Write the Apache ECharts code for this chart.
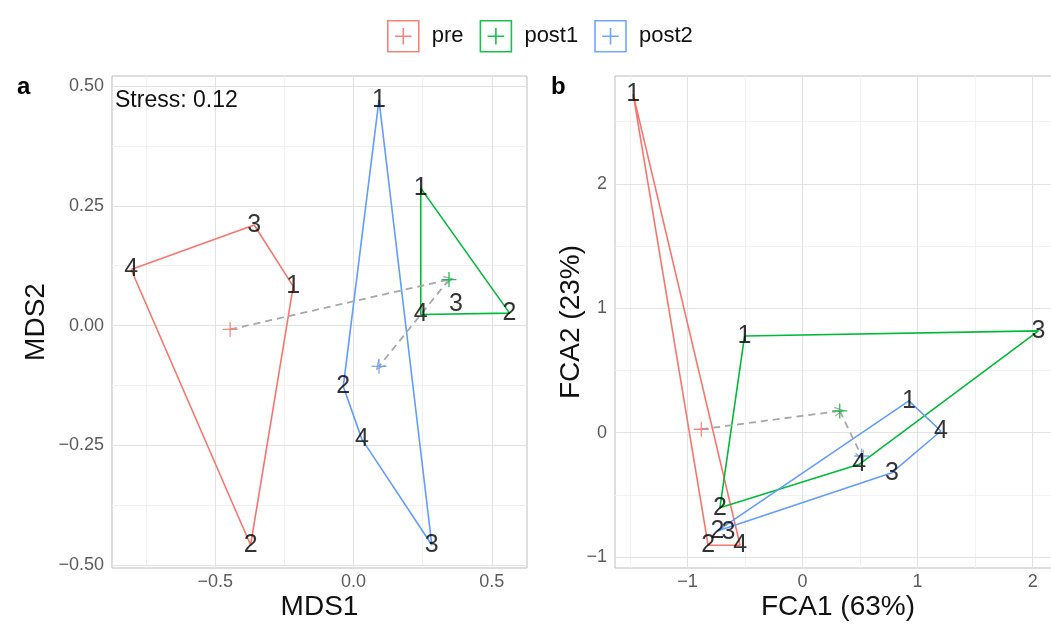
<!DOCTYPE html>
<html><head><meta charset="utf-8">
<script src="https://cdn.jsdelivr.net/npm/echarts@6/dist/echarts.min.js"></script>
<style>html,body{margin:0;padding:0;background:#fff}#c{width:1051px;height:630px}</style>
</head><body><div id="c"></div><script>
// ---------- DATA ----------
const groups = ['pre', 'post1', 'post2'];
const sampleLabels = ['1', '2', '3', '4'];

// Panel a: NMDS (samples 1..4)
const mdsPreX   = [-0.218, -0.372, -0.359, -0.804];
const mdsPreY   = [ 0.082, -0.458,  0.210,  0.117];
const mdsPost1X = [ 0.243,  0.564,  0.370,  0.243];
const mdsPost1Y = [ 0.287,  0.026,  0.044,  0.023];
const mdsPost2X = [ 0.092, -0.037,  0.283,  0.030];
const mdsPost2Y = [ 0.471, -0.127, -0.458, -0.237];
const mdsPreHull   = [4, 3, 1, 2];
const mdsPost1Hull = [1, 2, 4];
const mdsPost2Hull = [1, 3, 4, 2];
const mdsCentX = [-0.446, 0.345, 0.092];
const mdsCentY = [-0.008, 0.096, -0.085];
const mdsStress = 'Stress: 0.12';

// Panel b: FCA (samples 1..4)
const fcaPreX   = [-1.472, -0.821, -0.645, -0.543];
const fcaPreY   = [ 2.720, -0.905, -0.800, -0.905];
const fcaPost1X = [-0.504, -0.718,  2.050,  0.493];
const fcaPost1Y = [ 0.777, -0.603,  0.818, -0.255];
const fcaPost2X = [ 0.924, -0.740,  0.777,  1.202];
const fcaPost2Y = [ 0.255, -0.790, -0.322,  0.013];
const fcaPreHull   = [1, 2, 4];
const fcaPost1Hull = [1, 3, 4, 2];
const fcaPost2Hull = [1, 4, 3, 2];
const fcaCentX = [-0.880, 0.323, 0.513];
const fcaCentY = [ 0.027, 0.174, -0.188];

// Axis ticks
const mdsXTicks = [-0.5, 0, 0.5];
const mdsYTicks = [-0.5, -0.25, 0, 0.25, 0.5];
const mdsXMinor = [-0.75, -0.25, 0.25];
const mdsYMinor = [-0.375, -0.125, 0.125, 0.375];
const fcaXTicks = [-1, 0, 1, 2];
const fcaYTicks = [-1, 0, 1, 2];
const fcaXMinor = [-1.5, -0.5, 0.5, 1.5];
const fcaYMinor = [-0.5, 0.5, 1.5, 2.5];

// ---------- STYLE ----------
const colors = {pre: '#F8766D', post1: '#00BA38', post2: '#619CFF'};
const FONT = '"Liberation Sans", Arial, sans-serif';
const minus = s => s.replace('-', '\u2212');

const panels = [
  {xs: [mdsPreX, mdsPost1X, mdsPost2X], ys: [mdsPreY, mdsPost1Y, mdsPost2Y],
   hulls: [mdsPreHull, mdsPost1Hull, mdsPost2Hull], cx: mdsCentX, cy: mdsCentY,
   xr: [-0.873, 0.627], yr: [-0.506, 0.521],
   xt: mdsXTicks, yt: mdsYTicks, xm: mdsXMinor, ym: mdsYMinor,
   xf: v => minus(v.toFixed(1)), yf: v => minus(v.toFixed(2)),
   xname: 'MDS1', yname: 'MDS2', yGap: 62},
  {xs: [fcaPreX, fcaPost1X, fcaPost2X], ys: [fcaPreY, fcaPost1Y, fcaPost2Y],
   hulls: [fcaPreHull, fcaPost1Hull, fcaPost2Hull], cx: fcaCentX, cy: fcaCentY,
   xr: [-1.63, 2.246], yr: [-1.088, 2.866],
   xt: fcaXTicks, yt: fcaYTicks, xm: fcaXMinor, ym: fcaYMinor,
   xf: v => minus(String(Math.round(v))), yf: v => minus(String(Math.round(v))),
   xname: 'FCA1 (63%)', yname: 'FCA2 (23%)', yGap: 30}
];

const grids = [
  {left: 112, right: 1051 - 527, top: 76, bottom: 630 - 568},
  {left: 615, right: -10, top: 76, bottom: 630 - 568}
].map(g => Object.assign(g, {show: true, borderColor: '#bdbdbd', borderWidth: 1, backgroundColor: '#fff',
  containLabel: false, outerBoundsMode: 'none'}));

const xAxes = [], yAxes = [], series = [];
const plusPath = 'path://M5,0 L5,10 M0,5 L10,5';
const chevron = 'path://M0,10 L5,0 L10,10 L8.6,10 L5,2.8 L1.4,10 Z';

panels.forEach((p, i) => {
  const common = {
    gridIndex: i, type: 'value',
    axisLine: {show: false},
    splitLine: {show: false},
    axisTick: {show: true, length: 4, lineStyle: {color: '#bdbdbd'}},
    nameTextStyle: {fontFamily: FONT, fontSize: 28, color: '#111'},
    nameLocation: 'middle',
    nameMoveOverlap: false
  };
  xAxes.push(Object.assign({}, common, {
    min: p.xr[0], max: p.xr[1], name: p.xname, nameGap: 25,
    axisTick: Object.assign({}, common.axisTick, {customValues: p.xt}),
    axisLabel: {customValues: p.xt, formatter: p.xf, margin: 5, fontFamily: FONT, fontSize: 18, color: '#5c5c5c'}
  }));
  yAxes.push(Object.assign({}, common, {
    min: p.yr[0], max: p.yr[1], name: p.yname, nameGap: p.yGap,
    axisTick: Object.assign({}, common.axisTick, {customValues: p.yt}),
    axisLabel: {customValues: p.yt, formatter: p.yf, margin: 8, fontFamily: FONT, fontSize: 18, color: '#5c5c5c'}
  }));

  // grid lines
  const gl = (vals, isX) => vals.map(v => ({coords: isX ? [[v, p.yr[0]], [v, p.yr[1]]] : [[p.xr[0], v], [p.xr[1], v]]}));
  series.push({type: 'lines', coordinateSystem: 'cartesian2d', xAxisIndex: i, yAxisIndex: i, silent: true, z: 1,
    lineStyle: {color: '#f1f1f1', width: 1, opacity: 1}, data: gl(p.xm, true).concat(gl(p.ym, false))});
  series.push({type: 'lines', coordinateSystem: 'cartesian2d', xAxisIndex: i, yAxisIndex: i, silent: true, z: 1,
    lineStyle: {color: '#e2e2e2', width: 1, opacity: 1}, data: gl(p.xt, true).concat(gl(p.yt, false))});

  groups.forEach((g, k) => {
    const xs = p.xs[k], ys = p.ys[k];
    const ring = p.hulls[k].concat([p.hulls[k][0]]).map(n => [xs[n - 1], ys[n - 1]]);
    series.push({type: 'line', name: g, xAxisIndex: i, yAxisIndex: i, data: ring, symbol: 'none',
      lineStyle: {color: colors[g], width: 1.6}, itemStyle: {color: colors[g]}, z: 3, silent: true, animation: false});
  });

  // arrows between centroids
  series.push({type: 'lines', coordinateSystem: 'cartesian2d', xAxisIndex: i, yAxisIndex: i, silent: true, z: 4,
    symbol: ['none', chevron], symbolSize: 10,
    lineStyle: {color: '#a8a8a8', width: 1.8, type: [7, 5], opacity: 1},
    data: [{coords: [[p.cx[0], p.cy[0]], [p.cx[1], p.cy[1]]]}, {coords: [[p.cx[1], p.cy[1]], [p.cx[2], p.cy[2]]]}]});

  groups.forEach((g, k) => {
    series.push({type: 'scatter', name: g, xAxisIndex: i, yAxisIndex: i, symbol: plusPath, symbolSize: 15, z: 5,
      itemStyle: {color: 'none', borderColor: colors[g], borderWidth: 1.3, opacity: 0.85},
      data: [[p.cx[k], p.cy[k]]], silent: true, animation: false});
  });

  groups.forEach((g, k) => {
    const xs = p.xs[k], ys = p.ys[k];
    series.push({type: 'scatter', name: g + ' labels', xAxisIndex: i, yAxisIndex: i, symbolSize: 1, z: 6,
      itemStyle: {color: 'transparent'}, silent: true, animation: false,
      label: {show: true, position: 'inside', formatter: d => d.value[2], fontFamily: FONT, fontSize: 25, color: '#000'},
      data: xs.map((x, j) => [x, ys[j], sampleLabels[j]])});
  });
});

const legendIcon = 'path://M1,1 L31,1 L31,31 L1,31 Z M16,8 L16,24 M8,16 L24,16';

const option = {
  animation: false,
  backgroundColor: '#fff',
  title: [
    {text: 'a', left: 12, top: 70, textStyle: {fontFamily: FONT, fontSize: 24, fontWeight: 'bold', color: '#000'}},
    {text: 'b', left: 546, top: 70, textStyle: {fontFamily: FONT, fontSize: 24, fontWeight: 'bold', color: '#000'}},
    {text: mdsStress, left: 110, top: 84, textStyle: {fontFamily: FONT, fontSize: 23, fontWeight: 'normal', color: '#111'}}
  ],
  legend: {
    top: 15, left: 382, itemWidth: 31, itemHeight: 31, itemGap: 16,
    textStyle: {fontFamily: FONT, fontSize: 22, color: '#111', padding: [0, 0, 0, 8]},
    data: groups.map(g => ({name: g, icon: legendIcon,
      itemStyle: {color: 'transparent', borderColor: colors[g], borderWidth: 1.6, opacity: 0.9}}))
  },
  grid: grids,
  xAxis: xAxes,
  yAxis: yAxes,
  series: series
};

const chart = echarts.init(document.getElementById('c'), null, {renderer: 'canvas'});
chart.setOption(option);
</script></body></html>
